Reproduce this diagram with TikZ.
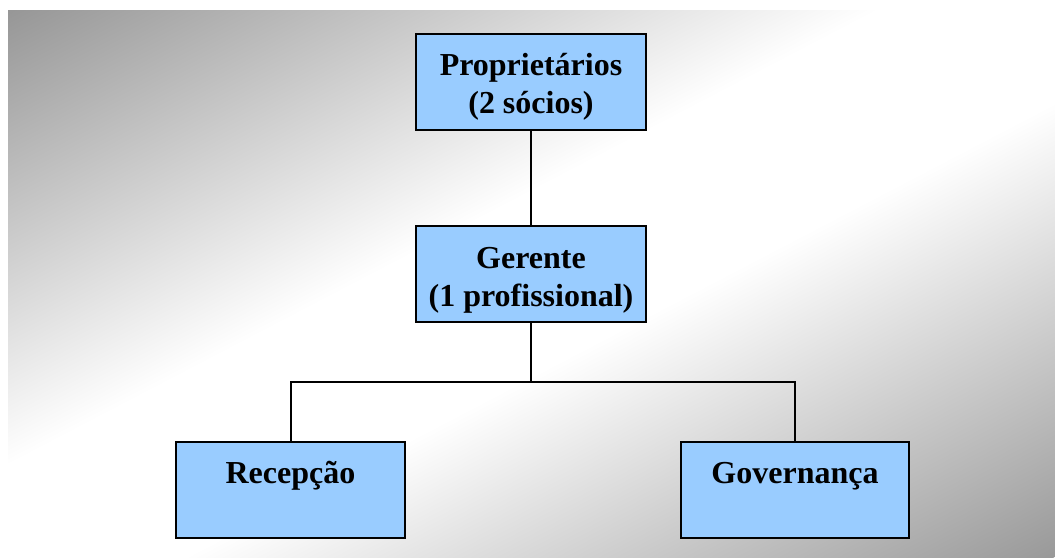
\documentclass[tikz,border=0pt]{standalone}
\usepackage{fontspec}
\setmainfont{Liberation Serif}
\definecolor{bgdark}{gray}{0.59}
\definecolor{bgdarkb}{gray}{0.60}
\definecolor{boxblue}{HTML}{99CCFF}
% light band along the diagonal, darker towards two opposite corners
\pgfdeclareverticalshading{bgdiag}{100bp}{%
  color(0bp)=(bgdarkb); color(25bp)=(bgdarkb);
  color(45.8bp)=(white); color(54.2bp)=(white);
  color(75bp)=(bgdark); color(100bp)=(bgdark)}
\tikzset{
  orgbox/.style={draw=black, line width=1.5pt, fill=boxblue,
    minimum width=230*0.75pt, minimum height=96*0.75pt, inner sep=0pt,
    align=center, font=\fontsize{24}{28.5}\selectfont\bfseries},
  link/.style={line width=1.5pt}
}
\begin{document}
\begin{tikzpicture}[x=0.75pt, y=-0.75pt]
  \useasboundingbox (0,0) rectangle (1055,557);
  \fill[white] (0,0) rectangle (1055,557);
  \begin{scope}
    \clip (8,10) rectangle (1055,557);
    \begin{scope}[transform canvas={shift={(531.5,283.5)}, rotate=27.59}]
      \shade[shading=bgdiag] (-600,-484.8) rectangle (600,484.8);
    \end{scope}
  \end{scope}

  \node[orgbox] (prop) at (531,82) {\rule{0pt}{24.5pt}Proprietários\\(2 sócios)};
  \node[orgbox] (ger) at (531,274) {\rule{0pt}{25pt}Gerente\\(1 profissional)};
  \node[orgbox, minimum width=229*0.75pt, text height=15pt, text depth=24.75pt] (rec) at (290.5,489.5) {Recepção};
  \node[orgbox, minimum width=228*0.75pt, text height=15pt, text depth=24.75pt] (gov) at (795,490) {Governança};

  \coordinate (bus) at (531,382);
  \draw[link] (prop) -- (ger);
  \draw[link] (ger) -- (bus);
  \draw[link] (rec.north) |- (bus) -| (gov.north);
\end{tikzpicture}
\end{document}
